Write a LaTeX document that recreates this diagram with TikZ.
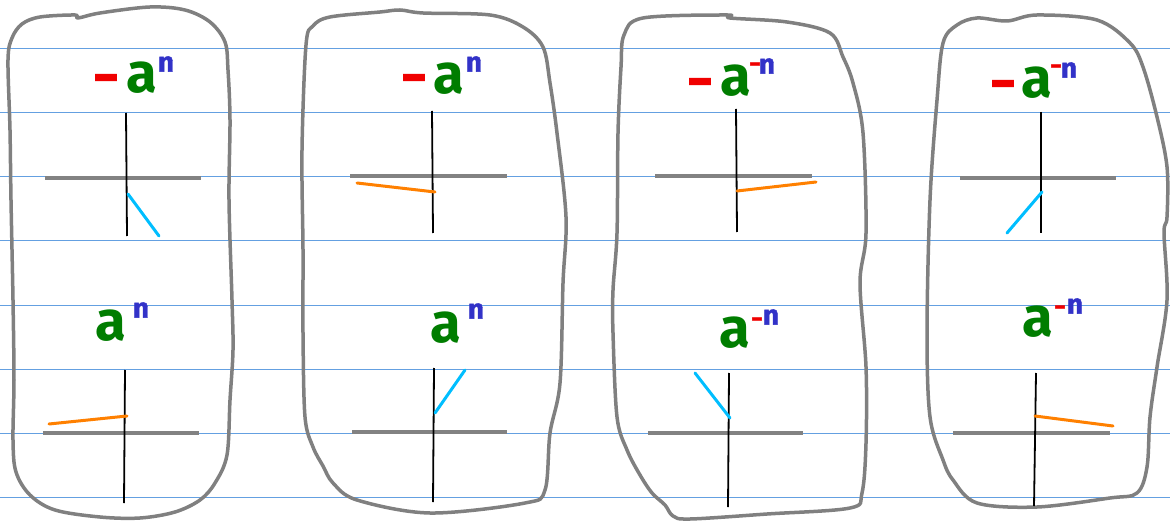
\documentclass[tikz,border=0pt]{standalone}
\usepackage{fontspec}
\setmainfont{Fira Sans}
\newfontfamily\thickfont[FakeBold=1.5]{Fira Sans}
\newfontfamily\signfont[FakeBold=3]{Fira Sans}
\definecolor{ruleblue}{RGB}{100,160,225}
\definecolor{framegray}{RGB}{128,128,128}
\definecolor{axisgray}{RGB}{130,130,130}
\definecolor{raycyan}{RGB}{0,190,255}
\definecolor{rayorange}{RGB}{255,128,0}
\definecolor{signred}{RGB}{240,0,0}
\definecolor{basegreen}{RGB}{0,125,0}
\definecolor{expblue}{RGB}{50,50,200}
\begin{document}
\begin{tikzpicture}[x=0.5pt,y=-0.5pt,
  rule/.style={draw=ruleblue,line width=0.5pt},
  frame/.style={draw=framegray,line width=1.75pt,line join=round},
  xaxis/.style={draw=axisgray,line width=1.7pt},
  yaxis/.style={draw=black,line width=0.9pt},
  cyanray/.style={draw=raycyan,line width=1.5pt,line cap=round},
  orangeray/.style={draw=rayorange,line width=1.5pt,line cap=round},
  bigminus/.style={text=signred,font=\fontsize{24}{24}\selectfont\signfont\bfseries,inner sep=0pt},
  basea/.style={text=basegreen,font=\fontsize{28}{28}\selectfont\bfseries,inner sep=0pt},
  smallminus/.style={text=signred,font=\fontsize{11}{11}\selectfont\signfont\bfseries,inner sep=0pt},
  expo/.style={text=expblue,font=\fontsize{14}{14}\selectfont\thickfont\bfseries,inner sep=0pt}]
\useasboundingbox (0,0) rectangle (1170,523);
\fill[white] (0,0) rectangle (1170,523);
\foreach \y in {49,113,...,497} \draw[rule] (0,\y) -- (1170,\y);

% frames
\draw[frame] plot[smooth cycle,tension=0.55] coordinates {
 (8,60) (12,38) (22,24) (40,17) (75,15) (78,18) (100,13) (150,7) (185,10) (210,22) (225,42)
 (228,70) (230,120) (229,200) (232,300) (233,350) (230,400) (227,455) (215,483) (200,500)
 (175,512) (140,518) (100,517) (55,510) (30,495) (16,472) (13,440) (14,380) (13,300) (11,200) (10,130)};
\draw[frame] plot[smooth cycle,tension=0.55] coordinates {
 (306,45) (313,26) (330,17) (380,12) (400,10) (423,13) (490,15) (523,27) (543,47) (550,83) (557,133)
 (566,217) (563,283) (560,383) (550,433) (545,490) (525,503) (430,513) (357,500) (333,483)
 (323,466) (313,447) (305,417) (303,333) (303,250) (302,150)};
\draw[frame] plot[smooth cycle,tension=0.55] coordinates {
 (624,35) (643,18) (727,15) (730,18) (787,22) (830,33) (843,57) (853,83) (863,133) (866,233)
 (860,283) (866,367) (866,443) (862,493) (850,508) (767,514) (690,519) (673,516) (665,505)
 (652,493) (640,475) (627,450) (617,417) (613,333) (613,290) (617,233) (618,133) (621,67)};
\draw[frame] plot[smooth cycle,tension=0.55] coordinates {
 (943,43) (957,25) (977,18) (1007,21) (1037,15) (1097,20) (1130,43) (1143,67) (1157,117)
 (1167,167) (1167,217) (1164,233) (1167,300) (1157,367) (1150,417) (1147,467) (1137,493)
 (1110,498) (1037,507) (977,503) (953,480) (943,460) (930,417) (927,333) (930,200) (937,100)};

% panel 1 top
\draw[xaxis] (45,178) -- (201,178);
\draw[yaxis] (126,113) -- (127,236);
\draw[cyanray] (128,194) -- (159,236);
\node[bigminus] (m1) at (106,84) {−};
\node[basea] (a1) at (142,78) {a};
\node[expo] (n1) at (166,64) {n};
% panel 1 bottom
\draw[xaxis] (43,433) -- (199,433);
\draw[yaxis] (125,370) -- (124,503);
\draw[orangeray] (49,424) -- (127,416);
\node[basea] (a2) at (111,326) {a};
\node[expo] (n2) at (141,310) {n};

% panel 2 top
\draw[xaxis] (350,176) -- (507,176);
\draw[yaxis] (432,111) -- (433,233);
\draw[orangeray] (357,183) -- (435,192);
\node[bigminus] (m3) at (414,84) {−};
\node[basea] (a3) at (449,79) {a};
\node[expo] (n3) at (474,64) {n};
% panel 2 bottom
\draw[xaxis] (352,432) -- (507,432);
\draw[yaxis] (434,368) -- (433,502);
\draw[cyanray] (435,413) -- (465,370);
\node[basea] (a4) at (446,328) {a};
\node[expo] (n4) at (476,311) {n};

% panel 3 top
\draw[xaxis] (655,176) -- (812,176);
\draw[yaxis] (736,109) -- (737,232);
\draw[orangeray] (737,191) -- (816,182);
\node[bigminus] (m5) at (700,88) {−};
\node[basea] (a5) at (736,81) {a};
\node[smallminus] (s5) at (755,67) {−};
\node[expo] (n5) at (767,66) {n};
% panel 3 bottom
\draw[xaxis] (648,433) -- (803,433);
\draw[yaxis] (729,373) -- (728,507);
\draw[cyanray] (695,373) -- (730,418);
\node[basea] (a6) at (735,333) {a};
\node[smallminus] (s6) at (757,322) {−};
\node[expo] (n6) at (771,317) {n};

% panel 4 top
\draw[xaxis] (960,178) -- (1116,178);
\draw[yaxis] (1041,112) -- (1041,233);
\draw[cyanray] (1042,192) -- (1007,233);
\node[bigminus] (m7) at (1003,90) {−};
\node[basea] (a7) at (1037,83) {a};
\node[smallminus] (s7) at (1056,69) {−};
\node[expo] (n7) at (1069,70) {n};
% panel 4 bottom
\draw[xaxis] (953,433) -- (1110,433);
\draw[yaxis] (1036,373) -- (1034,506);
\draw[orangeray] (1035,416) -- (1113,426);
\node[basea] (a8) at (1038,322) {a};
\node[smallminus] (s8) at (1060,310) {−};
\node[expo] (n8) at (1075,306) {n};
\end{tikzpicture}
\end{document}
